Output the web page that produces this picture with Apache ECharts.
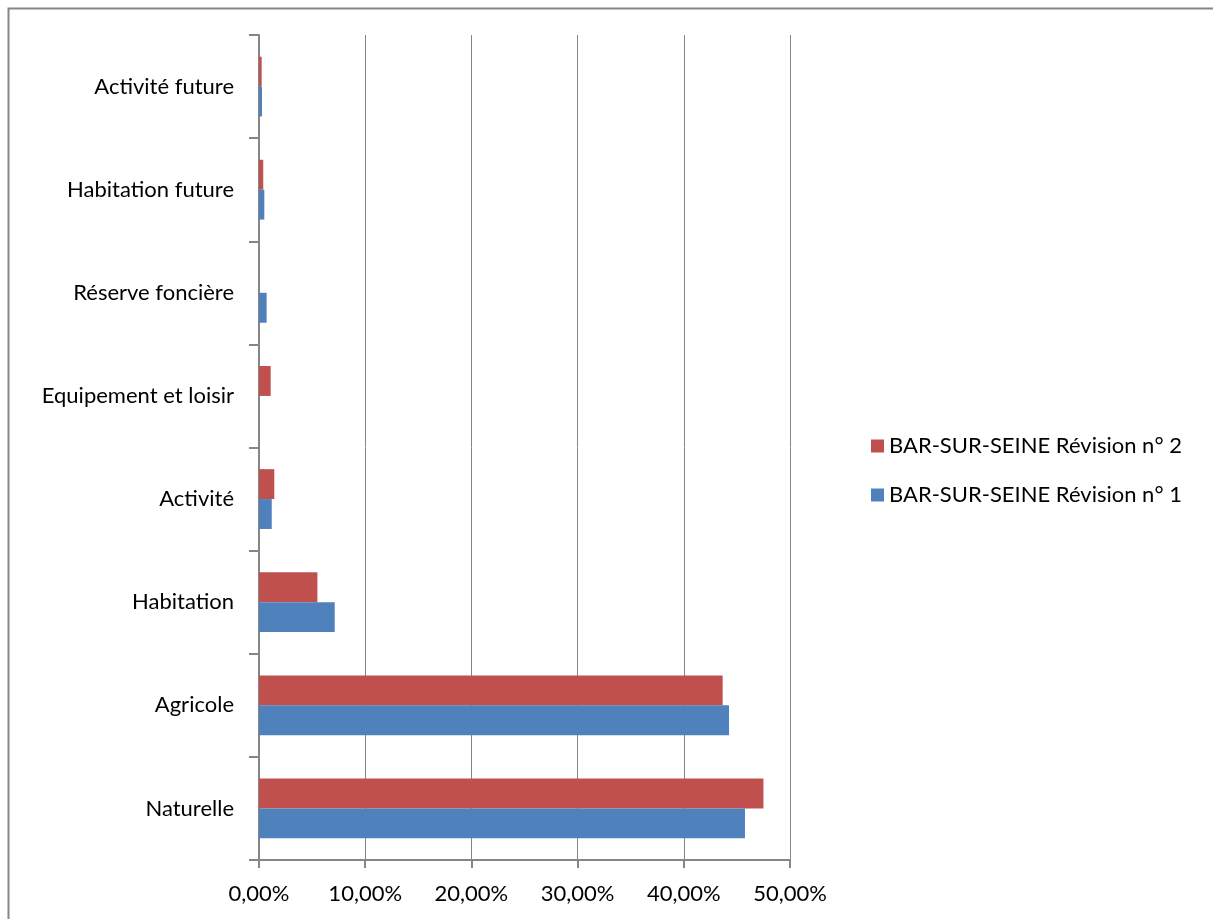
<!DOCTYPE html>
<html><head><meta charset="utf-8">
<script src="https://cdn.jsdelivr.net/npm/echarts@6/dist/echarts.min.js"></script>
<style>html,body{margin:0;padding:0;background:#fff}#c{width:1213px;height:919px}</style>
</head><body><div id="c"></div>
<script>
const categories = ['Naturelle','Agricole','Habitation','Activité','Equipement et loisir','Réserve foncière','Habitation future','Activité future'];
const rev1 = [45.76, 44.26, 7.13, 1.2, 0, 0.72, 0.5, 0.28];
const rev2 = [47.5, 43.66, 5.5, 1.44, 1.1, 0, 0.4, 0.25];
const seriesNames = ['BAR-SUR-SEINE Révision n° 1','BAR-SUR-SEINE Révision n° 2'];
const xTicks = [0,10,20,30,40,50];

const FONT = 'Lato, "Open Sans", sans-serif';
const chart = echarts.init(document.getElementById('c'));
chart.setOption({
  animation: false,
  graphic: [{type:'rect', shape:{x:8.5,y:8.5,width:1400,height:1200}, style:{fill:'none',stroke:'#868686',lineWidth:2}, z:-1}],
  grid: {left:259, right:423, top:35, bottom:59, containLabel:false},
  legend: {
    orient:'vertical', left:866, top:430,
    data:[seriesNames[1], seriesNames[0]],
    icon:'rect', itemWidth:13, itemHeight:13, itemGap:27,
    textStyle:{fontFamily:FONT, fontSize:22, color:'#000'}
  },
  xAxis: {
    type:'value', min:xTicks[0], max:xTicks[xTicks.length-1], interval:10,
    axisLine:{show:true, lineStyle:{color:'#868686', width:2}},
    axisTick:{show:true, length:8, lineStyle:{color:'#868686', width:2}},
    splitLine:{show:true, lineStyle:{color:'#868686', width:1}},
    axisLabel:{fontFamily:FONT, fontSize:22, color:'#000', margin:23,
      formatter: v => v.toFixed(2).replace('.', ',') + '%'}
  },
  yAxis: {
    type:'category', data:categories,
    axisLine:{show:true, lineStyle:{color:'#868686', width:2}},
    axisTick:{show:true, length:10, lineStyle:{color:'#868686', width:2}},
    axisLabel:{fontFamily:FONT, fontSize:22, color:'#000', margin:25}
  },
  series: [
    {name:seriesNames[1], type:'bar', data:rev2, itemStyle:{color:'#C0504D'}, barGap:'0%', barCategoryGap:'42%'},
    {name:seriesNames[0], type:'bar', data:rev1, itemStyle:{color:'#4F81BD'}, barGap:'0%', barCategoryGap:'42%'}
  ]
});
</script></body></html>
